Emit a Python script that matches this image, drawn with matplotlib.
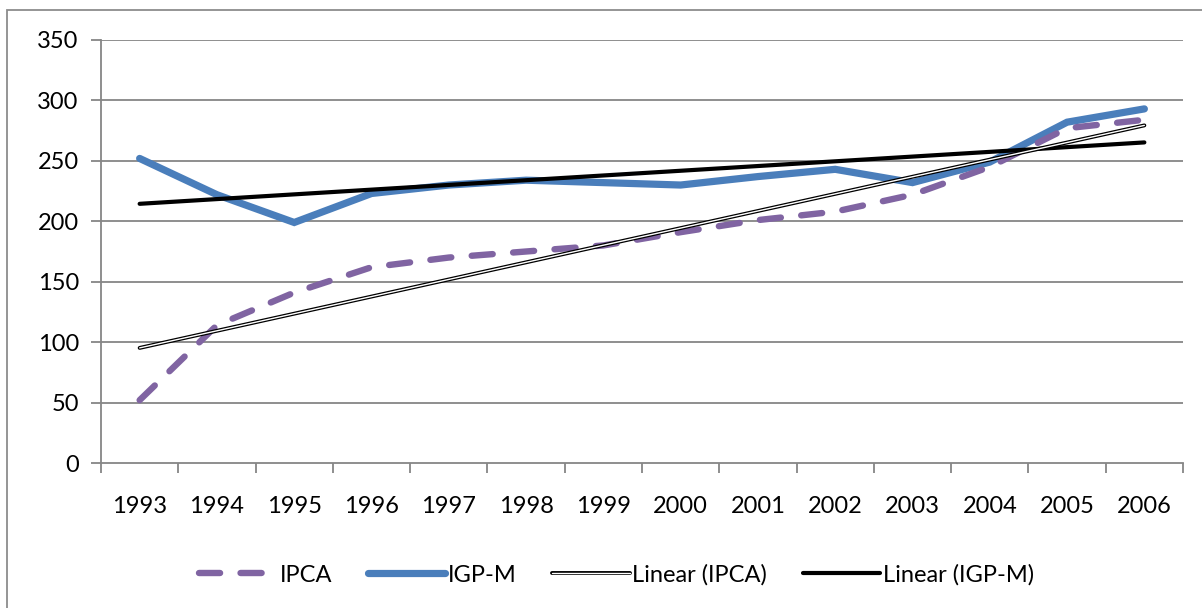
import numpy as np
import matplotlib.pyplot as plt
from matplotlib.patches import Rectangle

plt.rcParams['font.family'] = ['Lato', 'DejaVu Sans']

anos = ['1993', '1994', '1995', '1996', '1997', '1998', '1999',
        '2000', '2001', '2002', '2003', '2004', '2005', '2006']
ipca = [52, 114, 141, 162, 170, 175, 180, 191, 201, 208, 222, 245, 277, 284]
igpm = [252, 222, 199, 223, 230, 234, 232, 230, 237, 243, 232, 249, 282, 293]

x = np.arange(len(anos))

# linhas de tendencia (minimos quadrados)
a1, b1 = np.polyfit(x, ipca, 1)
a2, b2 = np.polyfit(x, igpm, 1)
tend_ipca = a1 * x + b1
tend_igpm = a2 * x + b2

fig = plt.figure(figsize=(12.02, 6.08), dpi=100)
ax = fig.add_axes([101/1202, 1 - 463/608, (1183-101)/1202, (463-40)/608])

grid_c = '#868686'
for v in range(50, 351, 50):
    ax.axhline(v, color=grid_c, lw=1.3, zorder=0)

l1, = ax.plot(x, ipca, color='#8064A2', lw=4.6, dash_capstyle='round',
              solid_capstyle='round', zorder=3)
l1.set_dashes((3.3, 3.2))
l2, = ax.plot(x, igpm, color='#4A7EBB', lw=5.2, solid_capstyle='round',
              solid_joinstyle='miter', zorder=2)
l3a, = ax.plot(x, tend_ipca, color='black', lw=2.8, solid_capstyle='round', zorder=4)
l3b, = ax.plot(x, tend_ipca, color='white', lw=1.0, solid_capstyle='round', zorder=5)
l4, = ax.plot(x, tend_igpm, color='black', lw=3.0, solid_capstyle='round', zorder=4)

ax.set_xlim(-0.5, len(anos) - 0.5)
ax.set_ylim(0, 350)
ax.set_yticks(range(0, 351, 50))
ax.set_xticks(np.arange(-0.5, len(anos), 1), minor=False)
ax.set_xticklabels([])
ax.set_xticks(x, minor=True)
ax.set_xticklabels(anos, minor=True)
ax.tick_params(axis='x', which='minor', length=0, pad=24, labelsize=17)
ax.tick_params(axis='x', which='major', length=7, width=1.3, color=grid_c)
ax.tick_params(axis='y', length=7, width=1.3, color=grid_c, pad=9, labelsize=17)

for s in ['top', 'right']:
    ax.spines[s].set_visible(False)
for s in ['left', 'bottom']:
    ax.spines[s].set_color(grid_c)
    ax.spines[s].set_linewidth(1.3)

fig.legend([l1, l2, (l3a, l3b), l4],
           ['IPCA', 'IGP-M', 'Linear (IPCA)', 'Linear (IGP-M)'],
           loc='center', bbox_to_anchor=(0.513, 1 - 575/608), ncol=4,
           frameon=False, fontsize=17, handlelength=3.3, handletextpad=0.1,
           columnspacing=1.5)

fig.patches.append(Rectangle((7/1202, -0.01), 1.2, 1 - 10/608 + 0.01,
                             transform=fig.transFigure, fill=False,
                             edgecolor='#8c8c8c', lw=1.3))

fig.savefig('out.png', dpi=100)
